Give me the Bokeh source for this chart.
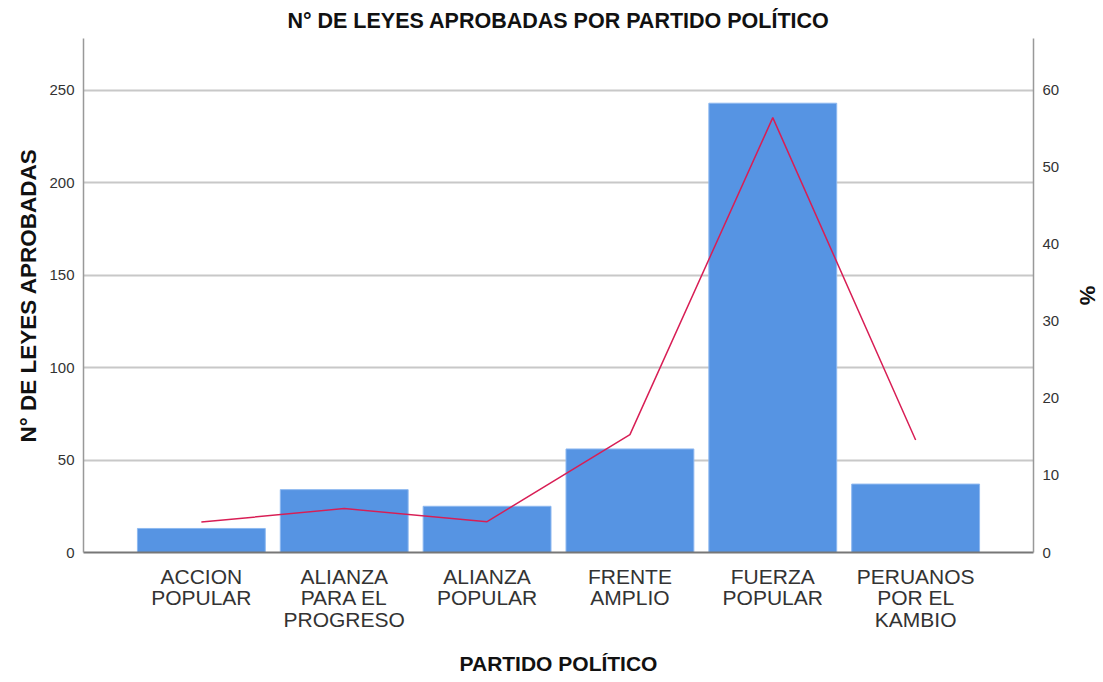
from bokeh.plotting import figure
from bokeh.models import Range1d, LinearAxis, FixedTicker
from bokeh.embed import file_html
from bokeh.resources import INLINE

categories = ["ACCION\nPOPULAR", "ALIANZA\nPARA EL\nPROGRESO", "ALIANZA\nPOPULAR",
              "FRENTE\nAMPLIO", "FUERZA\nPOPULAR", "PERUANOS\nPOR EL\nKAMBIO"]
leyes = [13, 34, 25, 56, 243, 37]
porcentaje = [3.95, 5.7, 4.0, 15.3, 56.45, 14.6]
left_ticks = [0, 50, 100, 150, 200, 250]
right_ticks = [0, 10, 20, 30, 40, 50, 60]

FONT = "Liberation Sans"
xs = list(range(len(categories)))

p = figure(width=1103, height=682, output_backend="svg", toolbar_location=None,
           x_range=Range1d(-0.825, 5.825), y_range=Range1d(0, 278),
           min_border_left=83, min_border_right=70, min_border_top=38, min_border_bottom=130,
           title="N° DE LEYES APROBADAS POR PARTIDO POLÍTICO")
p.extra_y_ranges = {"pct": Range1d(0, 278 * 60 / 250)}

p.title.align = "center"
p.title.text_font = FONT
p.title.text_font_size = "21.5px"
p.title.text_font_style = "bold"
p.title.text_color = "#111111"
p.title.offset = 0
p.title.standoff = 11

p.outline_line_color = None
p.background_fill_color = "white"
p.border_fill_color = "white"

p.vbar(x=xs, top=leyes, width=0.895, fill_color="#5694E3", line_color="#8DB8F0", line_width=1)
p.line(x=xs, y=porcentaje, y_range_name="pct", line_color="#D81E55", line_width=1.5)

# left axis
ya = p.yaxis[0]
ya.ticker = FixedTicker(ticks=left_ticks)
ya.axis_label = "N° DE LEYES APROBADAS"
ya.axis_label_text_font = FONT
ya.axis_label_text_font_size = "22.5px"
ya.axis_label_text_font_style = "bold"
ya.axis_label_text_color = "#111111"
ya.axis_label_standoff = 5
ya.major_label_text_font = FONT
ya.major_label_text_font_size = "15px"
ya.major_label_text_color = "#333333"
ya.major_tick_out = 0
ya.major_tick_in = 0
ya.minor_tick_out = 0
ya.minor_tick_in = 0
ya.major_label_standoff = 9
ya.axis_line_color = "#999999"
ya.axis_line_width = 1.5

# right axis
ra = LinearAxis(y_range_name="pct", ticker=FixedTicker(ticks=right_ticks), axis_label="%")
ra.axis_label_text_font = FONT
ra.axis_label_text_font_size = "22px"
ra.axis_label_text_font_style = "bold"
ra.axis_label_text_color = "#111111"
ra.axis_label_standoff = 13
ra.major_label_text_font = FONT
ra.major_label_text_font_size = "15px"
ra.major_label_text_color = "#333333"
ra.major_tick_out = 0
ra.major_tick_in = 0
ra.minor_tick_out = 0
ra.minor_tick_in = 0
ra.major_label_standoff = 9
ra.axis_line_color = "#999999"
ra.axis_line_width = 1.5
p.add_layout(ra, "right")

# bottom axis
xa = p.xaxis[0]
xa.ticker = FixedTicker(ticks=xs)
xa.major_label_overrides = {i: c for i, c in zip(xs, categories)}
xa.axis_label = "PARTIDO POLÍTICO"
xa.axis_label_text_font = FONT
xa.axis_label_text_font_size = "21px"
xa.axis_label_text_font_style = "bold"
xa.axis_label_text_color = "#111111"
xa.axis_label_standoff = 18
xa.major_label_text_font = FONT
xa.major_label_text_font_size = "21px"
xa.major_label_text_color = "#333333"
xa.major_label_text_line_height = 0.95
xa.major_tick_out = 0
xa.major_tick_in = 0
xa.minor_tick_out = 0
xa.minor_tick_in = 0
xa.major_label_standoff = 12
xa.axis_line_color = "#777777"
xa.axis_line_width = 2

p.xgrid.grid_line_color = None
p.ygrid.ticker = FixedTicker(ticks=left_ticks)
p.ygrid.grid_line_color = "#C8C8C8"
p.ygrid.grid_line_width = 2

open("out.html", "w").write(file_html(p, INLINE))
